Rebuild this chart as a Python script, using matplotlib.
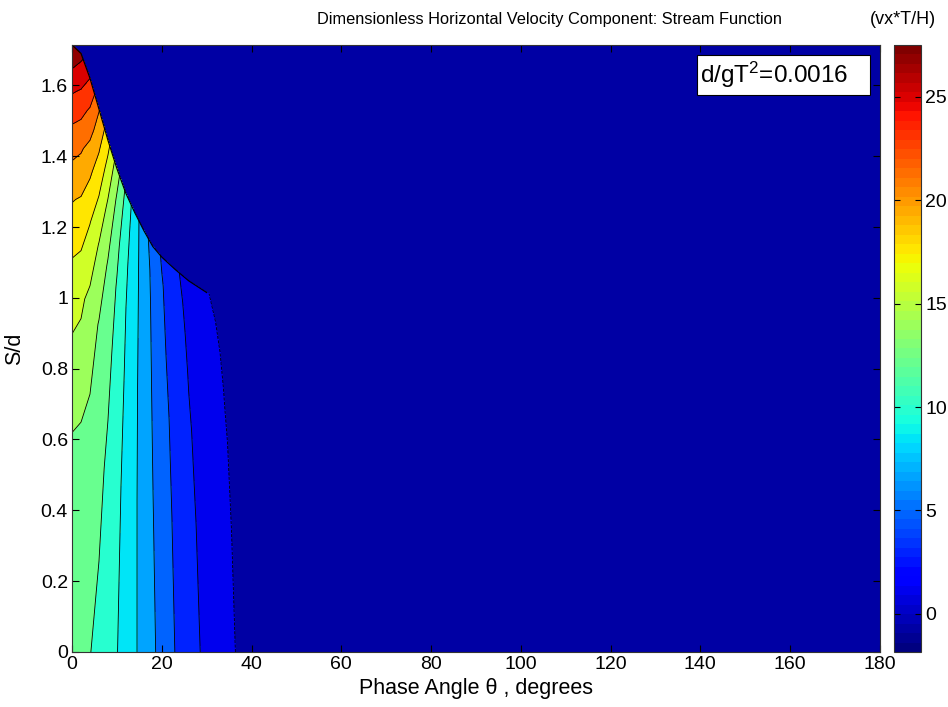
import numpy as np
import matplotlib
matplotlib.use("Agg")
import matplotlib.pyplot as plt
from matplotlib.colors import Normalize
from matplotlib.cm import ScalarMappable
from matplotlib.patches import Rectangle
from matplotlib.ticker import FuncFormatter

plt.rcParams["font.family"] = ["Liberation Sans", "DejaVu Sans"]
plt.rcParams["mathtext.default"] = "regular"

# phase angle columns (degrees) and free surface S/d at each column
theta = [0, 2, 4, 6, 8, 10, 12, 14, 16, 18, 20, 23, 26, 30, 34, 38, 45, 60, 90, 135, 180]
eta = [1.714, 1.69, 1.62, 1.533, 1.445, 1.365, 1.295, 1.24, 1.19, 1.145, 1.115,
       1.08, 1.048, 1.015, 0.99, 0.97, 0.95, 0.93, 0.915, 0.91, 0.91]

# fraction of local water depth, bottom -> surface
sigma = [0, 0.35, 0.6, 0.75, 0.85, 0.93, 1.0]

# vx*T/H, one list per theta column (bottom -> surface)
vx = [
    [11.70, 12.70, 15.52, 18.53, 21.29, 24.23, 27.50],
    [11.55, 12.47, 15.12, 18.05, 20.59, 23.42, 26.20],
    [11.05, 12.05, 14.01, 16.57, 18.92, 21.29, 23.84],
    [10.50, 11.54, 12.68, 14.57, 16.70, 18.57, 20.30],
    [9.90, 10.60, 11.57, 12.59, 13.93, 15.57, 17.16],
    [9.22, 9.60, 10.25, 10.80, 11.52, 12.48, 13.75],
    [8.40, 8.63, 8.91, 9.17, 9.50, 9.95, 10.58],
    [7.54, 7.58, 7.68, 7.80, 7.89, 8.03, 8.20],
    [6.66, 6.55, 6.50, 6.49, 6.48, 6.40, 6.27],
    [5.77, 5.55, 5.37, 5.25, 5.16, 5.05, 4.71],
    [4.90, 4.60, 4.35, 4.10, 3.95, 3.81, 3.48],
    [3.62, 3.35, 3.08, 2.75, 2.52, 2.35, 2.10],
    [2.57, 2.25, 1.98, 1.75, 1.58, 1.40, 1.20],
    [1.41, 1.22, 1.02, 0.78, 0.55, 0.33, 0.07],
    [0.51, 0.30, 0.11, -0.06, -0.20, -0.35, -0.50],
    [-0.35, -0.50, -0.62, -0.72, -0.80, -0.88, -0.95],
    [-0.90, -1.00, -1.08, -1.13, -1.17, -1.20, -1.23],
    [-1.40, -1.45, -1.48, -1.50, -1.52, -1.53, -1.55],
    [-1.70, -1.72, -1.73, -1.74, -1.75, -1.75, -1.76],
    [-1.80, -1.81, -1.81, -1.82, -1.82, -1.82, -1.83],
    [-1.82, -1.83, -1.83, -1.83, -1.84, -1.84, -1.84],
]

Z = np.array(vx).T
X = np.tile(np.array(theta, float), (len(sigma), 1))
Y = np.outer(sigma, eta)

zmin, zmax = Z.min(), Z.max()
levels = np.linspace(zmin, zmax, 17)
cmap = plt.get_cmap("jet", 64)
norm = Normalize(zmin, zmax)

fig = plt.figure(figsize=(9.48, 7.07), dpi=100)
ax = fig.add_axes([0.076, 0.0778, 0.852, 0.8586])
cax = fig.add_axes([0.943, 0.0778, 0.0285, 0.8586])

# region above the surface shows the lowest band colour
ax.set_facecolor(cmap(norm(0.5 * (levels[0] + levels[1]))))
ax.contourf(X, Y, Z, levels=levels, cmap=cmap, norm=norm)
ax.contour(X, Y, Z, levels=levels[1:-1], colors="k", linewidths=0.6)

# outline of the free surface where the flow is above the first level
top = Z[-1]
wet = top >= levels[1]
ax.plot(np.array(theta)[wet], np.array(eta)[wet], color="k", lw=0.9)

ax.set_xlim(0, 180)
ax.set_ylim(0, max(eta))
ax.set_xticks(range(0, 181, 20))
ax.set_yticks(np.arange(0, 1.61, 0.2))
ax.yaxis.set_major_formatter(FuncFormatter(lambda v, _: f"{v:g}"))
ax.tick_params(direction="in", top=True, right=True, length=5, width=0.8,
               labelsize=14, pad=3)
for s in ax.spines.values():
    s.set_color("#333333")

ax.set_xlabel("Phase Angle θ , degrees", fontsize=15.5)
ax.xaxis.set_label_coords(0.5, -0.043)
ax.set_ylabel("S/d", fontsize=15.5)
ax.yaxis.set_label_coords(-0.058, 0.5)

# parameter box
ax.add_patch(Rectangle((0.7735, 0.9176), 0.2141, 0.0659, transform=ax.transAxes,
                       facecolor="white", edgecolor="black", lw=0.8, zorder=5))
ax.text(0.777, 0.9506, "d/gT$^2$=0.0016", transform=ax.transAxes, ha="left",
        va="center", fontsize=17.5, zorder=6)

cb = fig.colorbar(ScalarMappable(norm=norm, cmap=cmap), cax=cax,
                  ticks=range(0, 26, 5))
cb.outline.set_edgecolor("#333333")
cax.tick_params(direction="in", left=True, right=True, length=4,
                labelsize=14, pad=3)

fig.text(0.580, 0.973, "Dimensionless Horizontal Velocity Component: Stream Function",
         ha="center", va="center", fontsize=11.8)
fig.text(0.9525, 0.973, "(vx*T/H)", ha="center", va="center", fontsize=13)

fig.savefig("out.png", dpi=100)
